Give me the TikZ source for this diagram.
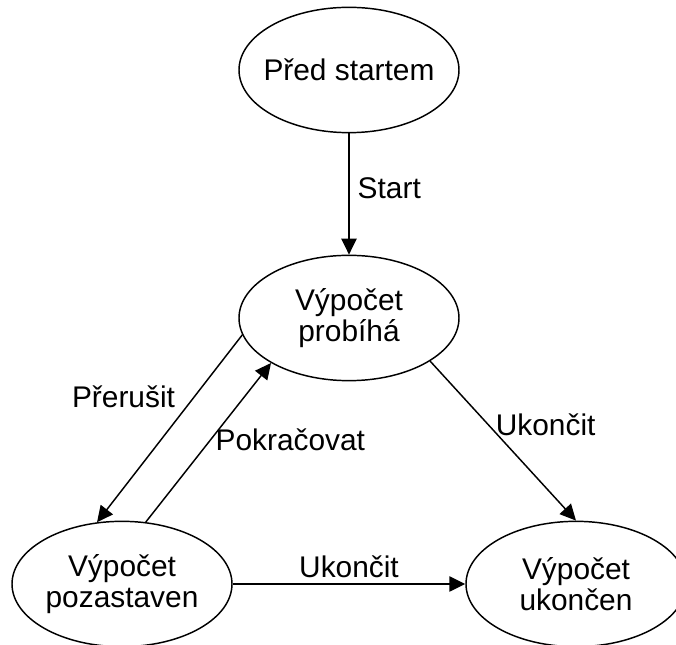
\documentclass[tikz,border=0pt]{standalone}
\usepackage{fontspec}
\setmainfont{Liberation Sans}
\usepackage{tikz}
\usetikzlibrary{shapes.geometric,arrows.meta,positioning}

\begin{document}
\begin{tikzpicture}[
  x=0.75pt, y=-0.75pt,
  font=\fontsize{22.4}{23}\selectfont,
  state/.style={draw, ellipse, line width=1.1pt, minimum width=165pt,
                minimum height=94pt, align=center, inner xsep=-6pt, inner ysep=0pt},
  ar/.style={-{Triangle[length=12pt,width=11.5pt]}, line width=1.1pt},
  lbl/.style={inner sep=2pt}
]
\useasboundingbox (0,0) rectangle (676,645);

% states
\node[state] (pre)  at (349,70)  {Před startem};
\node[state] (run)  at (349,318) {Výpočet\\probíhá};
\node[state] (halt) at (122,584) {Výpočet\\pozastaven};
\node[state] (done) at (576,584) {Výpočet\\ukončen};

% transitions
\draw[ar] (pre.south) -- node[lbl, right=4pt, pos=0.45] {Start} (run.north);
\draw[ar] (run.189) -- node[lbl, left=12pt, pos=0.33] {Přerušit} (halt.112);
\draw[ar] (halt.69) -- node[lbl, right=1pt, pos=0.52, anchor=west] {Pokračovat} (run.210);
\draw[ar] (run.332) -- node[lbl, right=3pt, pos=0.4, anchor=west] {Ukončit} (done.north);
\draw[ar] (halt.east) -- node[lbl, above=3pt, inner sep=1pt] {Ukončit} (done.west);
\end{tikzpicture}
\end{document}
